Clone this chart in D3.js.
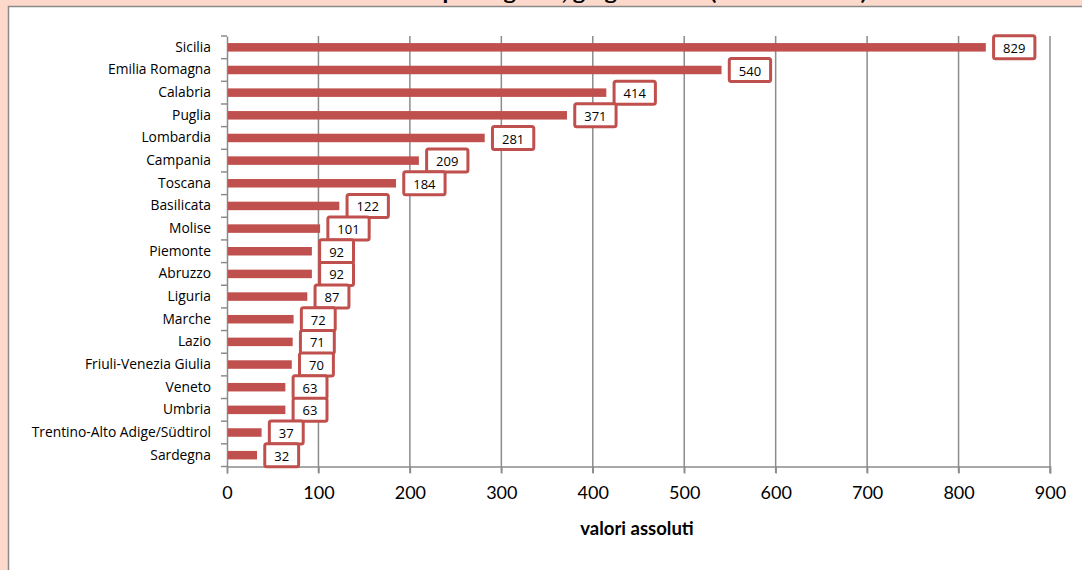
<!DOCTYPE html>
<html><head><meta charset="utf-8">
<script src="https://cdn.jsdelivr.net/npm/d3@7"></script>
<style>html,body{margin:0;padding:0;background:#fdd9cb;overflow:hidden}svg{display:block}</style>
</head><body>
<svg id="c" width="1082" height="570"></svg>
<script>
const regions = ["Sicilia","Emilia Romagna","Calabria","Puglia","Lombardia","Campania","Toscana","Basilicata","Molise","Piemonte","Abruzzo","Liguria","Marche","Lazio","Friuli-Venezia Giulia","Veneto","Umbria","Trentino-Alto Adige/Südtirol","Sardegna"];
const values = [829,540,414,371,281,209,184,122,101,92,92,87,72,71,70,63,63,37,32];
const xTicks = [0,100,200,300,400,500,600,700,800,900];
const titleText = "Grafico 2 - Numero di controlli effettuati per regione, giugno 2013 (valori assoluti)";
const axisTitle = "valori assoluti";

const svg = d3.select("#c");
const red = "#c0504d", grid = "#8c8c8c";
const catFont = "'Open Sans', sans-serif";

// title strip (cut off at top, as in the reference)
svg.append("text").attr("x",15).attr("y",0.4)
  .attr("font-family","Lato, sans-serif").attr("font-weight","bold").attr("font-size",19)
  .attr("textLength",852).attr("lengthAdjust","spacingAndGlyphs")
  .text(titleText);

// white chart box
svg.append("rect").attr("x",8.5).attr("y",6.5).attr("width",1100).attr("height",600)
  .attr("fill","#fff").attr("stroke","#8a8a8a").attr("stroke-width",1.5);

const x = d3.scaleLinear().domain([0,900]).range([227,1050]);
const y = d3.scaleBand().domain(regions).range([36,466.5]);

// gridlines
svg.append("g").selectAll("line").data(xTicks.slice(1)).join("line")
  .attr("x1",d=>x(d)).attr("x2",d=>x(d)).attr("y1",36).attr("y2",473)
  .attr("stroke",grid).attr("stroke-width",1.5);

// x axis
const xa = svg.append("g").attr("transform","translate(0,466.5)")
  .call(d3.axisBottom(x).tickValues(xTicks).tickSize(7).tickPadding(13));
xa.select(".domain").attr("stroke",grid).attr("stroke-width",1.5);
xa.selectAll(".tick line").attr("stroke",grid).attr("stroke-width",1.5);
xa.selectAll("text").attr("font-family","Lato, sans-serif").attr("font-size",18).attr("fill","#000");

// y axis
const ya = svg.append("g").attr("transform","translate(227,0)")
  .call(d3.axisLeft(y).tickSize(0).tickPadding(16));
ya.select(".domain").attr("stroke",grid).attr("stroke-width",1.5);
ya.selectAll("text").attr("font-family",catFont).attr("font-size",13.8).attr("fill","#000");
const bounds = d3.range(regions.length+1).map(i=>36 + i*y.step());
svg.append("g").selectAll("line").data(bounds).join("line")
  .attr("x1",221).attr("x2",227).attr("y1",d=>d).attr("y2",d=>d)
  .attr("stroke",grid).attr("stroke-width",1.5);

// bars
const bh = 8.5;
svg.append("g").selectAll("rect").data(values).join("rect")
  .attr("x",x(0)+0.75).attr("y",(d,i)=>y(regions[i])+y.bandwidth()/2-bh/2)
  .attr("width",d=>x(d)-x(0)).attr("height",bh).attr("fill",red);

// labels
const lg = svg.append("g");
values.forEach((v,i)=>{
  const cy = y(regions[i])+y.bandwidth()/2;
  const g = lg.append("g");
  const r = g.append("rect");
  const t = g.append("text").attr("font-family",catFont).attr("font-size",13)
    .attr("text-anchor","middle").attr("dy","0.35em").text(v);
  const w = t.node().getComputedTextLength()+19;
  const bx = x(v)+8.5;
  r.attr("x",bx).attr("y",cy-11.5).attr("width",w).attr("height",23).attr("rx",2)
   .attr("fill","#fff").attr("stroke",red).attr("stroke-width",3);
  t.attr("x",bx+w/2).attr("y",cy+1);
});

svg.append("text").attr("x",637).attr("y",535).attr("text-anchor","middle")
  .attr("font-family","Lato, sans-serif").attr("font-weight","bold").attr("font-size",18.5)
  .text(axisTitle);
</script>
</body></html>
